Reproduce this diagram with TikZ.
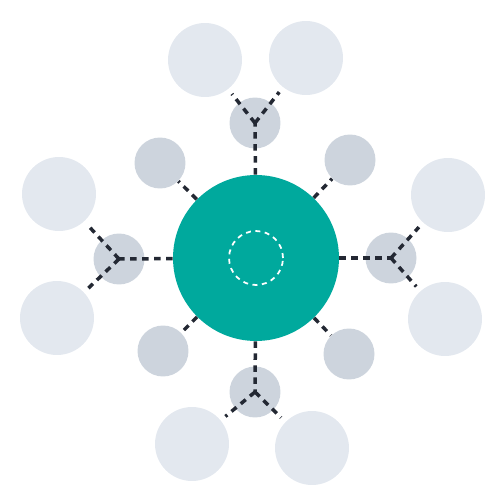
\documentclass[tikz,border=0pt]{standalone}
\begin{document}
\begin{tikzpicture}[x=0.02cm,y=-0.02cm,
  hub/.style={circle,fill=tealc,draw=none,minimum size=3.32cm,inner sep=0},
  mid/.style={circle,fill=midc,draw=none,minimum size=1.02cm,inner sep=0},
  big/.style={circle,fill=lightc,draw=none,minimum size=1.48cm,inner sep=0},
  link/.style={draw=linkc,line width=0.07cm,dash pattern=on 0.13cm off 0.11cm},
  branch/.style={link,shorten >=0.12cm},
  ring/.style={draw=white,line width=0.035cm,dash pattern=on 0.1cm off 0.09cm}]
\definecolor{tealc}{HTML}{00A99D}
\definecolor{midc}{HTML}{CDD4DD}
\definecolor{lightc}{HTML}{E3E8EF}
\definecolor{linkc}{HTML}{232833}
\useasboundingbox (0,0) rectangle (500,500);
% hub
\node[hub] (C) at (256,258) {};
% branching mids
\node[mid] (mt) at (255,123) {};
\node[mid] (mb) at (255,392) {};
\node[mid] (ml) at (119,259) {};
\node[mid] (mr) at (391,258) {};
% diagonal mids
\node[mid] (dtl) at (160,163) {};
\node[mid] (dtr) at (350,160) {};
\node[mid] (dbl) at (163,351) {};
\node[mid] (dbr) at (349,354) {};
% large
\node[big] (t1) at (205,60) {};
\node[big] (t2) at (306,58) {};
\node[big] (l1) at (59,194) {};
\node[big] (l2) at (57,318) {};
\node[big] (r1) at (448,195) {};
\node[big] (r2) at (445,319) {};
\node[big] (b1) at (192,444) {};
\node[big] (b2) at (312,448) {};
% inner ring
\node[circle,ring,minimum size=1.08cm,inner sep=0] (ring) at (C.center) {};
% links
\draw[link] (C) -- (mt.center);
\draw[link] (C) -- (mb.center);
\draw[link] (C) -- (ml.center);
\draw[link] (C) -- (mr.center);
\draw[link] (C) -- (dtl);
\draw[link] (C) -- (dtr);
\draw[link] (C) -- (dbl);
\draw[link] (C) -- (dbr);
\draw[branch] (mt.center) -- (t1);
\draw[branch] (mt.center) -- (t2);
\draw[branch] (ml.center) -- (l1);
\draw[branch] (ml.center) -- (l2);
\draw[branch] (mr.center) -- (r1);
\draw[branch] (mr.center) -- (r2);
\draw[branch] (mb.center) -- (b1);
\draw[branch] (mb.center) -- (b2);
\end{tikzpicture}
\end{document}
